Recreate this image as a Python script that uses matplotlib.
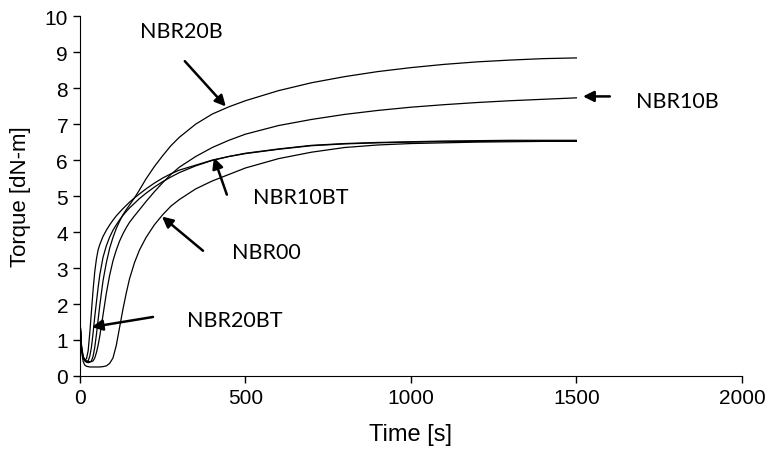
"""Torque curves of the NBR compounds"""

import matplotlib
matplotlib.use("Agg")
import matplotlib.pyplot as plt
import matplotlib.ticker as tick

time_s = [0, 5, 10, 15, 20, 25, 30, 35, 40, 45, 50, 55, 60, 70, 80, 90,
          100, 110, 120, 130, 140, 150, 165, 180, 200, 225, 250, 275, 300,
          350, 400, 450, 500, 600, 700, 800, 900, 1000, 1100, 1200, 1300,
          1400, 1500]

torque_nbr20bt = [1.6, 0.85, 0.55, 0.45, 0.48, 0.7, 1.2, 1.8, 2.4, 2.9,
                  3.25, 3.5, 3.65, 3.88, 4.05, 4.2, 4.33, 4.45, 4.55, 4.65,
                  4.74, 4.83, 4.95, 5.06, 5.2, 5.36, 5.5, 5.62, 5.72, 5.86,
                  6.0, 6.1, 6.18, 6.3, 6.4, 6.45, 6.48, 6.5, 6.51, 6.52,
                  6.53, 6.53, 6.53]
torque_nbr10bt = [1.6, 0.8, 0.5, 0.42, 0.4, 0.42, 0.55, 0.8, 1.2, 1.65,
                  2.05, 2.45, 2.8, 3.3, 3.62, 3.86, 4.05, 4.2, 4.34, 4.46,
                  4.57, 4.67, 4.8, 4.93, 5.08, 5.25, 5.4, 5.53, 5.65, 5.84,
                  5.99, 6.1, 6.19, 6.31, 6.41, 6.46, 6.49, 6.51, 6.53, 6.54,
                  6.55, 6.55, 6.55]
torque_nbr20b = [1.6, 0.75, 0.5, 0.42, 0.38, 0.37, 0.38, 0.42, 0.55, 0.8,
                 1.15, 1.55, 1.95, 2.65, 3.15, 3.55, 3.85, 4.1, 4.3, 4.48,
                 4.62, 4.75, 4.95, 5.17, 5.48, 5.82, 6.12, 6.4, 6.63, 7.0,
                 7.28, 7.48, 7.65, 7.93, 8.15, 8.32, 8.46, 8.57, 8.66, 8.73,
                 8.78, 8.82, 8.84]
torque_nbr10b = [1.6, 0.75, 0.5, 0.45, 0.42, 0.4, 0.4, 0.4, 0.42, 0.5,
                 0.65, 0.85, 1.1, 1.7, 2.3, 2.8, 3.2, 3.5, 3.75, 3.95,
                 4.12, 4.27, 4.45, 4.62, 4.85, 5.12, 5.37, 5.6, 5.8, 6.1,
                 6.35, 6.55, 6.72, 6.96, 7.13, 7.27, 7.38, 7.47, 7.54, 7.6,
                 7.65, 7.69, 7.73]
torque_nbr00 = [1.6, 0.7, 0.4, 0.3, 0.27, 0.26, 0.25, 0.25, 0.25, 0.25,
                0.25, 0.25, 0.25, 0.26, 0.28, 0.35, 0.5, 0.85, 1.35, 1.85,
                2.3, 2.7, 3.15, 3.5, 3.85, 4.2, 4.48, 4.72, 4.9, 5.2,
                5.42, 5.6, 5.78, 6.04, 6.22, 6.35, 6.42, 6.46, 6.48, 6.5,
                6.51, 6.52, 6.52]

labels = ["NBR20B", "NBR10B", "NBR10BT", "NBR00", "NBR20BT"]


def main() -> None:
    fig = plt.figure(figsize=(7.68, 4.52), dpi=100)
    ax = fig.add_axes([0.104, 0.166, 0.862, 0.796])

    for series in (torque_nbr20bt, torque_nbr10bt, torque_nbr20b,
                   torque_nbr10b, torque_nbr00):
        ax.plot(time_s, series, color="black", lw=0.9)

    # arrows: (tail, head) and label centre, in data units
    notes = [((317, 8.75), (441, 7.49), (308, 9.58)),
             ((1601, 7.77), (1520, 7.77), (1804, 7.63)),
             ((444, 5.04), (405, 6.07), (668, 4.98)),
             ((372, 3.48), (248, 4.43), (562, 3.45)),
             ((221, 1.64), (36, 1.36), (469, 1.56))]
    for name, (tail, head, txt) in zip(labels, notes):
        ax.annotate("", xy=head, xytext=tail,
                    arrowprops=dict(arrowstyle="-|>", color="black", lw=1.8,
                                    mutation_scale=16, shrinkA=0, shrinkB=0))
        ax.text(txt[0], txt[1], name, ha="center", va="center",
                fontsize=15.5, family="Lato")

    ax.set_xlim(0, 2000)
    ax.set_ylim(0, 10)
    ax.xaxis.set_major_locator(tick.MultipleLocator(500))
    ax.yaxis.set_major_locator(tick.MultipleLocator(1))
    ax.spines["top"].set_visible(False)
    ax.spines["right"].set_visible(False)
    ax.tick_params(direction="out", length=5, width=1, labelsize=15)
    for lab in ax.get_xticklabels() + ax.get_yticklabels():
        lab.set_family("Liberation Sans")
    ax.set_xlabel("Time [s]", fontsize=17, family="Liberation Sans",
                  labelpad=12)
    ax.set_ylabel("Torque [dN-m]", fontsize=16, family="Liberation Sans",
                  labelpad=10)

    fig.savefig("out.png", dpi=100)


if __name__ == '__main__':
    main()
